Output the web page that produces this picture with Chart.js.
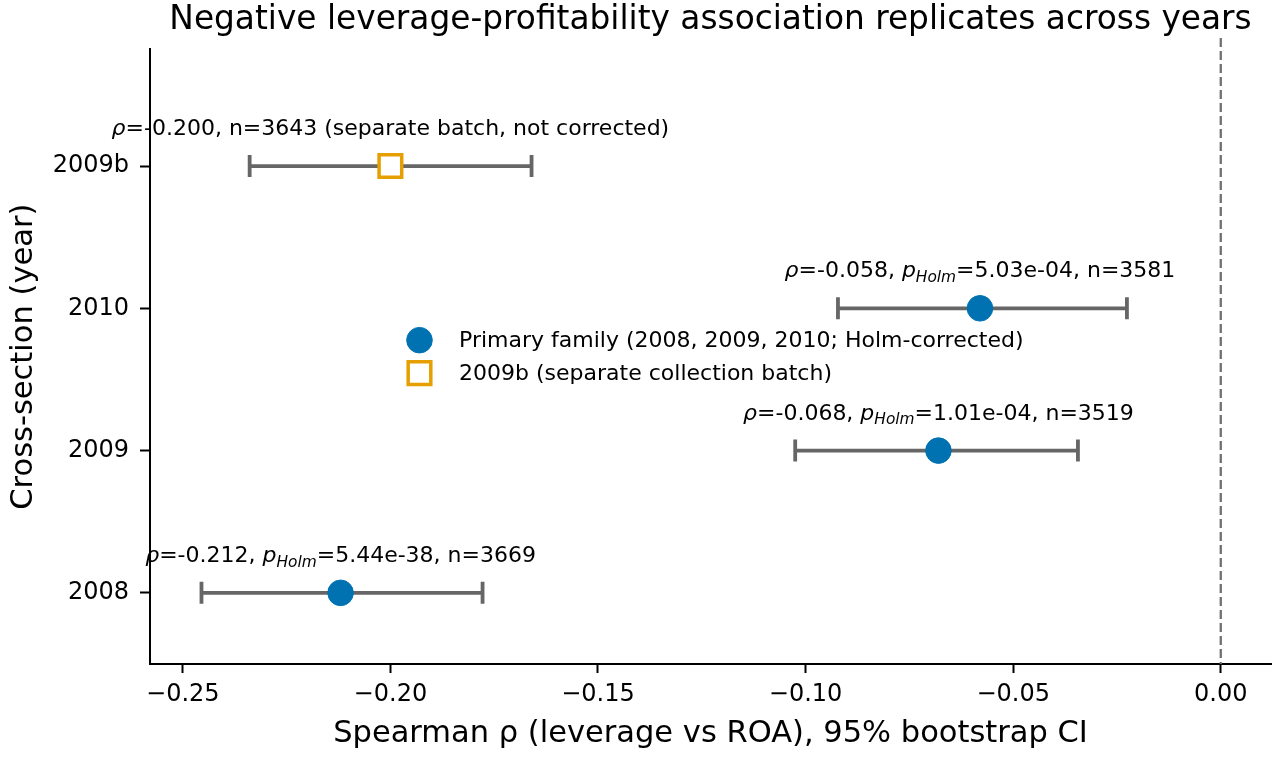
<!DOCTYPE html>
<html><head><meta charset="utf-8">
<script src="https://cdn.jsdelivr.net/npm/chart.js@4.4.1/dist/chart.umd.min.js"></script>
<style>html,body{margin:0;padding:0;background:#fff;overflow:hidden}canvas{display:block}</style>
</head><body>
<canvas id="c" width="1280" height="760" style="width:1280px;height:760px"></canvas>
<script>
// ---- data ----
const years = ['2008', '2009', '2010', '2009b'];
const yearIndex = [0, 1, 2, 3];
const rho = [-0.212, -0.068, -0.058, -0.200];
const ciLow = [-0.2455, -0.1025, -0.0922, -0.2339];
const ciHigh = [-0.1778, -0.0344, -0.0226, -0.1660];
const pHolm = ['5.44e-38', '1.01e-04', '5.03e-04', null];
const nObs = [3669, 3519, 3581, 3643];
const isPrimary = [true, true, true, false];
const xTicks = [-0.25, -0.20, -0.15, -0.10, -0.05, 0.00];
const xTickLabels = ['\u22120.25', '\u22120.20', '\u22120.15', '\u22120.10', '\u22120.05', '0.00'];
const zeroLineSpan = [-0.5, 3.9];
const seriesLabels = ['Primary family (2008, 2009, 2010; Holm-corrected)', '2009b (separate collection batch)'];
const batchNote = '(separate batch, not corrected)';
const titleText = 'Negative leverage-profitability association replicates across years';
const xTitle = 'Spearman \u03c1 (leverage vs ROA), 95% bootstrap CI';
const yTitle = 'Cross-section (year)';

// ---- styles ----
const FAM = "'DejaVu Sans', sans-serif";
const BLUE = '#0072B2', ORANGE = '#E69F00', ERR = '#666666';
const ANN_FS = 22;

const idx = yearIndex;
const primaryPts = idx.filter(i => isPrimary[i]).map(i => ({x: rho[i], y: yearIndex[i]}));
const batchPts = idx.filter(i => !isPrimary[i]).map(i => ({x: rho[i], y: yearIndex[i]}));

const errorBars = {
  id: 'errorBars',
  beforeDatasetsDraw(chart) {
    const {ctx, scales: {x, y}} = chart;
    ctx.save();
    const x0 = x.getPixelForValue(0);
    ctx.strokeStyle = '#707070';
    ctx.lineWidth = 2.3;
    ctx.setLineDash([9, 4]);
    ctx.beginPath();
    ctx.moveTo(x0, y.getPixelForValue(zeroLineSpan[1]));
    ctx.lineTo(x0, y.getPixelForValue(zeroLineSpan[0]));
    ctx.stroke();
    ctx.setLineDash([]);
    ctx.strokeStyle = ERR;
    ctx.lineWidth = 3.8;
    ctx.lineCap = 'butt';
    idx.forEach(i => {
      const x1 = x.getPixelForValue(ciLow[i]);
      const x2 = x.getPixelForValue(ciHigh[i]);
      const yy = y.getPixelForValue(yearIndex[i]);
      ctx.beginPath();
      ctx.moveTo(x1, yy); ctx.lineTo(x2, yy);
      ctx.moveTo(x1, yy - 11); ctx.lineTo(x1, yy + 11);
      ctx.moveTo(x2, yy - 11); ctx.lineTo(x2, yy + 11);
      ctx.stroke();
    });
    ctx.restore();
  }
};

function drawRich(ctx, parts, cx, baseY) {
  const fontOf = p => (p.it ? 'italic ' : '') + (p.sub ? ANN_FS * 0.7 : ANN_FS) + 'px ' + FAM;
  let total = 0;
  parts.forEach(p => { ctx.font = fontOf(p); p.w = ctx.measureText(p.t).width; total += p.w; });
  let xx = cx - total / 2;
  ctx.textAlign = 'left';
  ctx.textBaseline = 'alphabetic';
  parts.forEach(p => {
    ctx.font = fontOf(p);
    ctx.fillText(p.t, xx, baseY + (p.sub ? ANN_FS * 0.22 : 0));
    xx += p.w;
  });
}

const annotations = {
  id: 'annotations',
  afterDatasetsDraw(chart) {
    const {ctx, scales: {x, y}} = chart;
    ctx.save();
    ctx.fillStyle = '#000';
    idx.forEach(i => {
      const px = x.getPixelForValue(rho[i]);
      const py = y.getPixelForValue(yearIndex[i]);
      let parts;
      if (isPrimary[i]) {
        parts = [{t: '\u03c1', it: 1}, {t: '=' + rho[i].toFixed(3) + ', '}, {t: 'p', it: 1},
                 {t: 'Holm', it: 1, sub: 1}, {t: '=' + pHolm[i] + ', n=' + nObs[i]}];
      } else {
        parts = [{t: '\u03c1', it: 1}, {t: '=' + rho[i].toFixed(3) + ', n=' + nObs[i] + ' ' + batchNote}];
      }
      drawRich(ctx, parts, px, py - 31);
    });
    ctx.restore();
  }
};

const customLegend = {
  id: 'customLegend',
  afterDraw(chart) {
    const {ctx, chartArea} = chart;
    const fs = ANN_FS;
    ctx.save();
    ctx.font = fs + 'px ' + FAM;
    const ds = chart.data.datasets;
    const w = Math.max(...ds.map(d => ctx.measureText(d.label).width));
    const pad = 0.4 * fs;
    const W = 2 * pad + 2.8 * fs + w;
    const rowH = 33;
    const cx = (chartArea.left + chartArea.right) / 2;
    const cy = (chartArea.top + chartArea.bottom) / 2;
    const left = cx - W / 2;
    const mx = left + pad + fs;
    const tx = mx + 1.8 * fs;
    ds.forEach((d, k) => {
      const yy = cy - rowH / 2 + k * rowH;
      ctx.beginPath();
      if (d.pointStyle === 'rect') {
        const s = d.pointRadius * Math.SQRT1_2;
        ctx.rect(mx - s, yy - s, 2 * s, 2 * s);
      } else {
        ctx.arc(mx, yy, d.pointRadius, 0, Math.PI * 2);
      }
      ctx.fillStyle = d.backgroundColor;
      ctx.fill();
      ctx.lineWidth = d.borderWidth;
      ctx.strokeStyle = d.borderColor;
      ctx.stroke();
      ctx.fillStyle = '#000';
      ctx.textAlign = 'left';
      ctx.textBaseline = 'middle';
      ctx.font = fs + 'px ' + FAM;
      ctx.fillText(d.label, tx, yy + 1);
    });
    ctx.restore();
  }
};

new Chart(document.getElementById('c'), {
  type: 'scatter',
  data: {
    datasets: [
      {label: seriesLabels[0], data: primaryPts, pointStyle: 'circle', pointRadius: 12.8, pointHoverRadius: 12.8,
       backgroundColor: BLUE, borderColor: BLUE, borderWidth: 1},
      {label: seriesLabels[1], data: batchPts, pointStyle: 'rect', pointRadius: 16, pointHoverRadius: 16,
       backgroundColor: '#ffffff', borderColor: ORANGE, borderWidth: 3.5}
    ]
  },
  options: {
    responsive: false,
    animation: false,
    devicePixelRatio: 1,
    events: [],
    layout: {autoPadding: false, padding: {left: 0, right: 9, top: 0, bottom: 0}},
    plugins: {
      legend: {display: false},
      tooltip: {enabled: false},
      title: {display: true, text: titleText, fullSize: false, color: '#000',
              font: {family: FAM, size: 32.8, weight: 'normal'}, padding: {top: 1, bottom: 9}}
    },
    scales: {
      x: {
        type: 'linear', position: 'bottom', min: -0.2579, max: 0.0121,
        afterBuildTicks: s => { s.ticks = xTicks.map(v => ({value: v})); },
        afterFit: s => { s.height = 96; s.paddingLeft = 0; s.paddingRight = 0; },
        ticks: {color: '#000', font: {family: FAM, size: 24}, padding: 7, maxRotation: 0,
                callback: (v) => { const k = xTicks.findIndex(t => Math.abs(t - v) < 1e-9); return k >= 0 ? xTickLabels[k] : ''; }},
        grid: {display: true, drawOnChartArea: false, drawTicks: true, tickLength: 9, tickWidth: 2, tickColor: '#000'},
        border: {display: true, color: '#000', width: 2},
        title: {display: true, text: xTitle, color: '#000', font: {family: FAM, size: 30.5}, padding: {top: 0, bottom: 8}}
      },
      y: {
        type: 'linear', position: 'left', min: -0.5, max: 3.82,
        afterBuildTicks: s => { s.ticks = yearIndex.map(v => ({value: v})); },
        afterFit: s => { s.width = 150; s.paddingTop = 0; s.paddingBottom = 0; },
        ticks: {color: '#000', font: {family: FAM, size: 24}, padding: 11,
                callback: (v) => years[v] !== undefined ? years[v] : ''},
        grid: {display: true, drawOnChartArea: false, drawTicks: true, tickLength: 10, tickWidth: 2, tickColor: '#000'},
        border: {display: true, color: '#000', width: 2},
        title: {display: true, text: yTitle, color: '#000', font: {family: FAM, size: 30.5}, padding: {top: 6, bottom: 0}}
      }
    }
  },
  plugins: [errorBars, annotations, customLegend]
});
</script>
</body></html>
